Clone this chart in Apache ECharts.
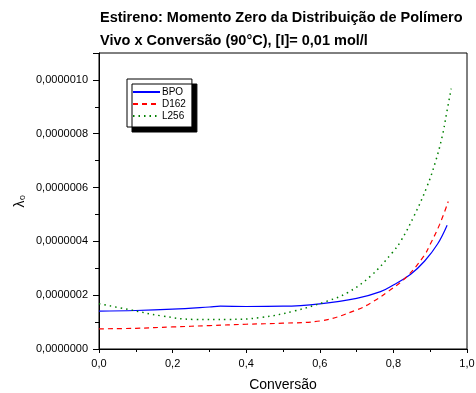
<!DOCTYPE html>
<html>
<head>
<meta charset="utf-8">
<script src="https://cdn.jsdelivr.net/npm/echarts@6/dist/echarts.min.js"></script>
<style>
  html, body { margin: 0; padding: 0; background: #fff; }
  #chart { width: 476px; height: 393px; }
</style>
</head>
<body>
<div id="chart"></div>
<script>
// Curves: [conversion, lambda0]
const bpo = [
    [0.0, 1.41e-7], [0.1, 1.43e-7], [0.2, 1.48e-7], [0.3, 1.56e-7], [0.33, 1.59e-7],
    [0.4, 1.58e-7], [0.5, 1.59e-7], [0.6, 1.68e-7], [0.7, 1.88e-7], [0.765, 2.13e-7],
    [0.8, 2.38e-7], [0.847, 2.78e-7], [0.885, 3.27e-7], [0.92, 3.9e-7], [0.946, 4.6e-7]
];
const d162 = [
    [0.0, 0.75e-7], [0.1, 0.77e-7], [0.2, 0.82e-7], [0.3, 0.87e-7], [0.4, 0.92e-7],
    [0.5, 0.96e-7], [0.6, 1.04e-7], [0.7, 1.45e-7], [0.747, 1.78e-7], [0.788, 2.16e-7],
    [0.838, 2.71e-7], [0.883, 3.46e-7], [0.9, 3.89e-7], [0.926, 4.64e-7], [0.949, 5.48e-7]
];
const l256 = [
    [0.0, 1.68e-7], [0.08, 1.47e-7], [0.17, 1.23e-7], [0.26, 1.1e-7], [0.35, 1.1e-7],
    [0.44, 1.17e-7], [0.53, 1.41e-7], [0.62, 1.78e-7], [0.675, 2.09e-7], [0.738, 2.71e-7],
    [0.797, 3.58e-7], [0.82, 4.01e-7], [0.856, 4.94e-7], [0.892, 6.06e-7], [0.915, 6.99e-7],
    [0.933, 7.92e-7], [0.944, 8.72e-7], [0.957, 9.68e-7]
];
const seriesNames = ['BPO', 'D162', 'L256'];

const font = 'Liberation Sans, Arial, sans-serif';

var chart = echarts.init(document.getElementById('chart'));
var option = {
    animation: false,
    title: {
        text: 'Estireno: Momento Zero da Distribuição de Polímero\nVivo x Conversão (90°C), [I]= 0,01 mol/l',
        left: 95,
        top: 1,
        textStyle: {
            fontFamily: font,
            fontSize: 14.5,
            fontWeight: 'bold',
            color: '#000',
            lineHeight: 23
        }
    },
    legend: {
        orient: 'vertical',
        left: 127,
        top: 79,
        width: 65,
        padding: [8, 6, 6, 5],
        itemGap: 2,
        itemWidth: 27,
        itemHeight: 10,
        backgroundColor: '#fff',
        borderColor: '#000',
        borderWidth: 1,
        shadowColor: '#000',
        shadowBlur: 0,
        shadowOffsetX: 5,
        shadowOffsetY: 5,
        itemStyle: { opacity: 0 },
        textStyle: { fontFamily: font, fontSize: 10, color: '#000', padding: [0, 0, 0, -3] },
        data: seriesNames
    },
    grid: {
        left: 99,
        right: 9,
        top: 53,
        bottom: 44,
        outerBoundsMode: 'none',
        show: true,
        borderColor: '#000',
        borderWidth: 1
    },
    xAxis: {
        type: 'value',
        min: 0,
        max: 1,
        interval: 0.2,
        name: 'Conversão',
        nameLocation: 'middle',
        nameGap: 29,
        nameTextStyle: { fontFamily: font, fontSize: 14, color: '#000' },
        axisLine: { lineStyle: { color: '#000' } },
        axisTick: { length: 4, lineStyle: { color: '#000' } },
        minorTick: { show: true, splitNumber: 2, length: 3, lineStyle: { color: '#000' } },
        splitLine: { show: false },
        axisLabel: {
            fontFamily: font, fontSize: 11, color: '#000', margin: 9,
            formatter: v => v.toFixed(1).replace('.', ',')
        }
    },
    yAxis: {
        type: 'value',
        min: 0,
        max: 1.1e-6,
        interval: 2e-7,
        name: 'λ₀',
        nameLocation: 'middle',
        nameGap: 72,
        nameMoveOverlap: false,
        nameRotate: 90,
        nameTextStyle: { fontFamily: font, fontSize: 14, color: '#000' },
        axisLine: { lineStyle: { color: '#000' } },
        axisTick: { length: 6, lineStyle: { color: '#000' } },
        minorTick: { show: true, splitNumber: 2, length: 4, lineStyle: { color: '#000' } },
        splitLine: { show: false },
        axisLabel: {
            fontFamily: font, fontSize: 11, color: '#000', margin: 11,
            showMaxLabel: false,
            formatter: v => v.toFixed(7).replace('.', ',')
        }
    },
    series: [
        {
            name: 'BPO', type: 'line', data: bpo, smooth: 0.4, symbol: 'none',
            lineStyle: { color: '#0000ff', width: 1.2 },
            itemStyle: { color: '#0000ff' }
        },
        {
            name: 'D162', type: 'line', data: d162, smooth: 0.4, symbol: 'none',
            lineStyle: { color: '#ff0000', width: 1.2, type: [5, 4] },
            itemStyle: { color: '#ff0000' }
        },
        {
            name: 'L256', type: 'line', data: l256, smooth: 0.4, symbol: 'none',
            lineStyle: { color: '#008000', width: 1.5, type: [1.5, 4] },
            itemStyle: { color: '#008000' }
        }
    ]
};
option && chart.setOption(option);
</script>
</body>
</html>
